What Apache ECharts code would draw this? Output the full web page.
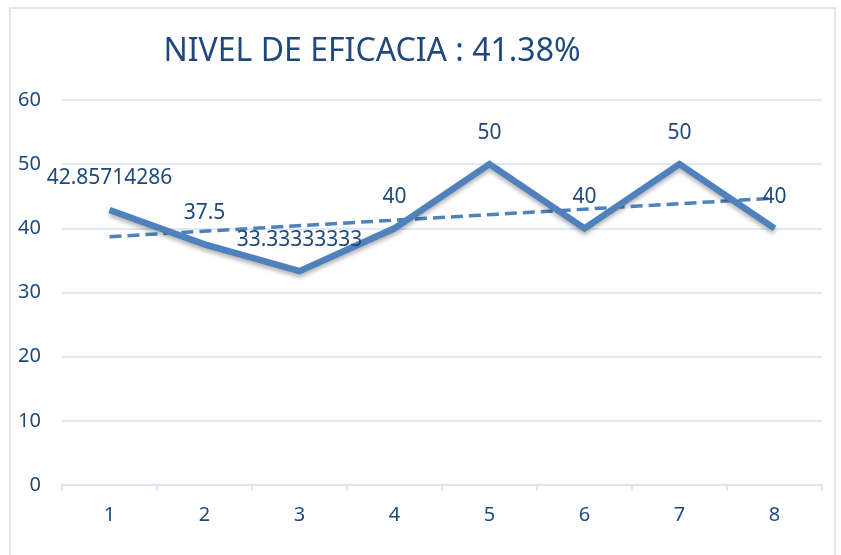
<!DOCTYPE html>
<html>
<head>
<meta charset="utf-8"/>
<script src="https://cdn.jsdelivr.net/npm/echarts@6/dist/echarts.min.js"></script>
<style>
  html, body { margin: 0; padding: 0; background: #fff; }
  #chart { width: 841px; height: 555px; }
</style>
</head>
<body>
<div id="chart"></div>
<script type="text/javascript">
// datos
var categorias = ['1', '2', '3', '4', '5', '6', '7', '8'];
var eficacia = [42.85714286, 37.5, 33.33333333, 40, 50, 40, 50, 40];
var etiquetas = ['42.85714286', '37.5', '33.33333333', '40', '50', '40', '50', '40'];
// linea de tendencia: extremos en la categoria 1 y 8
var tendencia = [[0, 38.7], [7, 44.7]];

var azul = '#4F81BD';
var texto = '#1F497D';
var rejilla = '#D6E2F1';

var myChart = echarts.init(document.getElementById('chart'));
var option = {
    backgroundColor: '#fff',
    animation: false,
    title: {
        text: 'NIVEL DE EFICACIA : 41.38%',
        left: 367,
        top: 31,
        textAlign: 'center',
        textStyle: {
            color: texto,
            fontFamily: 'Noto Sans',
            fontWeight: 'normal',
            fontSize: 32
        }
    },
    graphic: [{
        type: 'rect',
        shape: { x: 10, y: 8, width: 825, height: 560 },
        style: { fill: 'none', stroke: '#D3DFEE', lineWidth: 1.5 },
        silent: true
    }],
    grid: { left: 62, right: 19, top: 100, bottom: 70 },
    xAxis: {
        type: 'category',
        data: categorias,
        boundaryGap: true,
        axisLine: { lineStyle: { color: rejilla, width: 1.5 } },
        axisTick: { show: true, length: 6, lineStyle: { color: rejilla, width: 1.5 } },
        axisLabel: {
            color: texto,
            fontFamily: 'Noto Sans',
            fontSize: 20,
            margin: 20
        }
    },
    yAxis: {
        type: 'value',
        min: 0,
        max: 60,
        interval: 10,
        axisLine: { show: false },
        axisTick: { show: false },
        splitLine: { lineStyle: { color: rejilla, width: 1.5 } },
        axisLabel: {
            color: texto,
            fontFamily: 'Noto Sans',
            fontSize: 20,
            margin: 21
        }
    },
    series: [{
        name: 'Eficacia',
        type: 'line',
        data: eficacia,
        symbol: 'circle',
        symbolSize: 2,
        showSymbol: true,
        itemStyle: { color: 'rgba(0,0,0,0)' },
        lineStyle: {
            color: azul,
            width: 6.5,
            join: 'miter',
            shadowColor: 'rgba(0,0,0,0.3)',
            shadowBlur: 4,
            shadowOffsetY: 3
        },
        label: {
            show: true,
            position: 'top',
            distance: 20,
            color: texto,
            fontFamily: 'Noto Sans',
            fontSize: 21,
            formatter: function (p) { return etiquetas[p.dataIndex]; }
        },
        z: 3
    }, {
        name: 'Tendencia',
        type: 'line',
        data: tendencia,
        symbol: 'none',
        lineStyle: {
            color: azul,
            width: 3.5,
            type: [12, 6]
        },
        z: 2
    }]
};
myChart.setOption(option);
</script>
</body>
</html>
